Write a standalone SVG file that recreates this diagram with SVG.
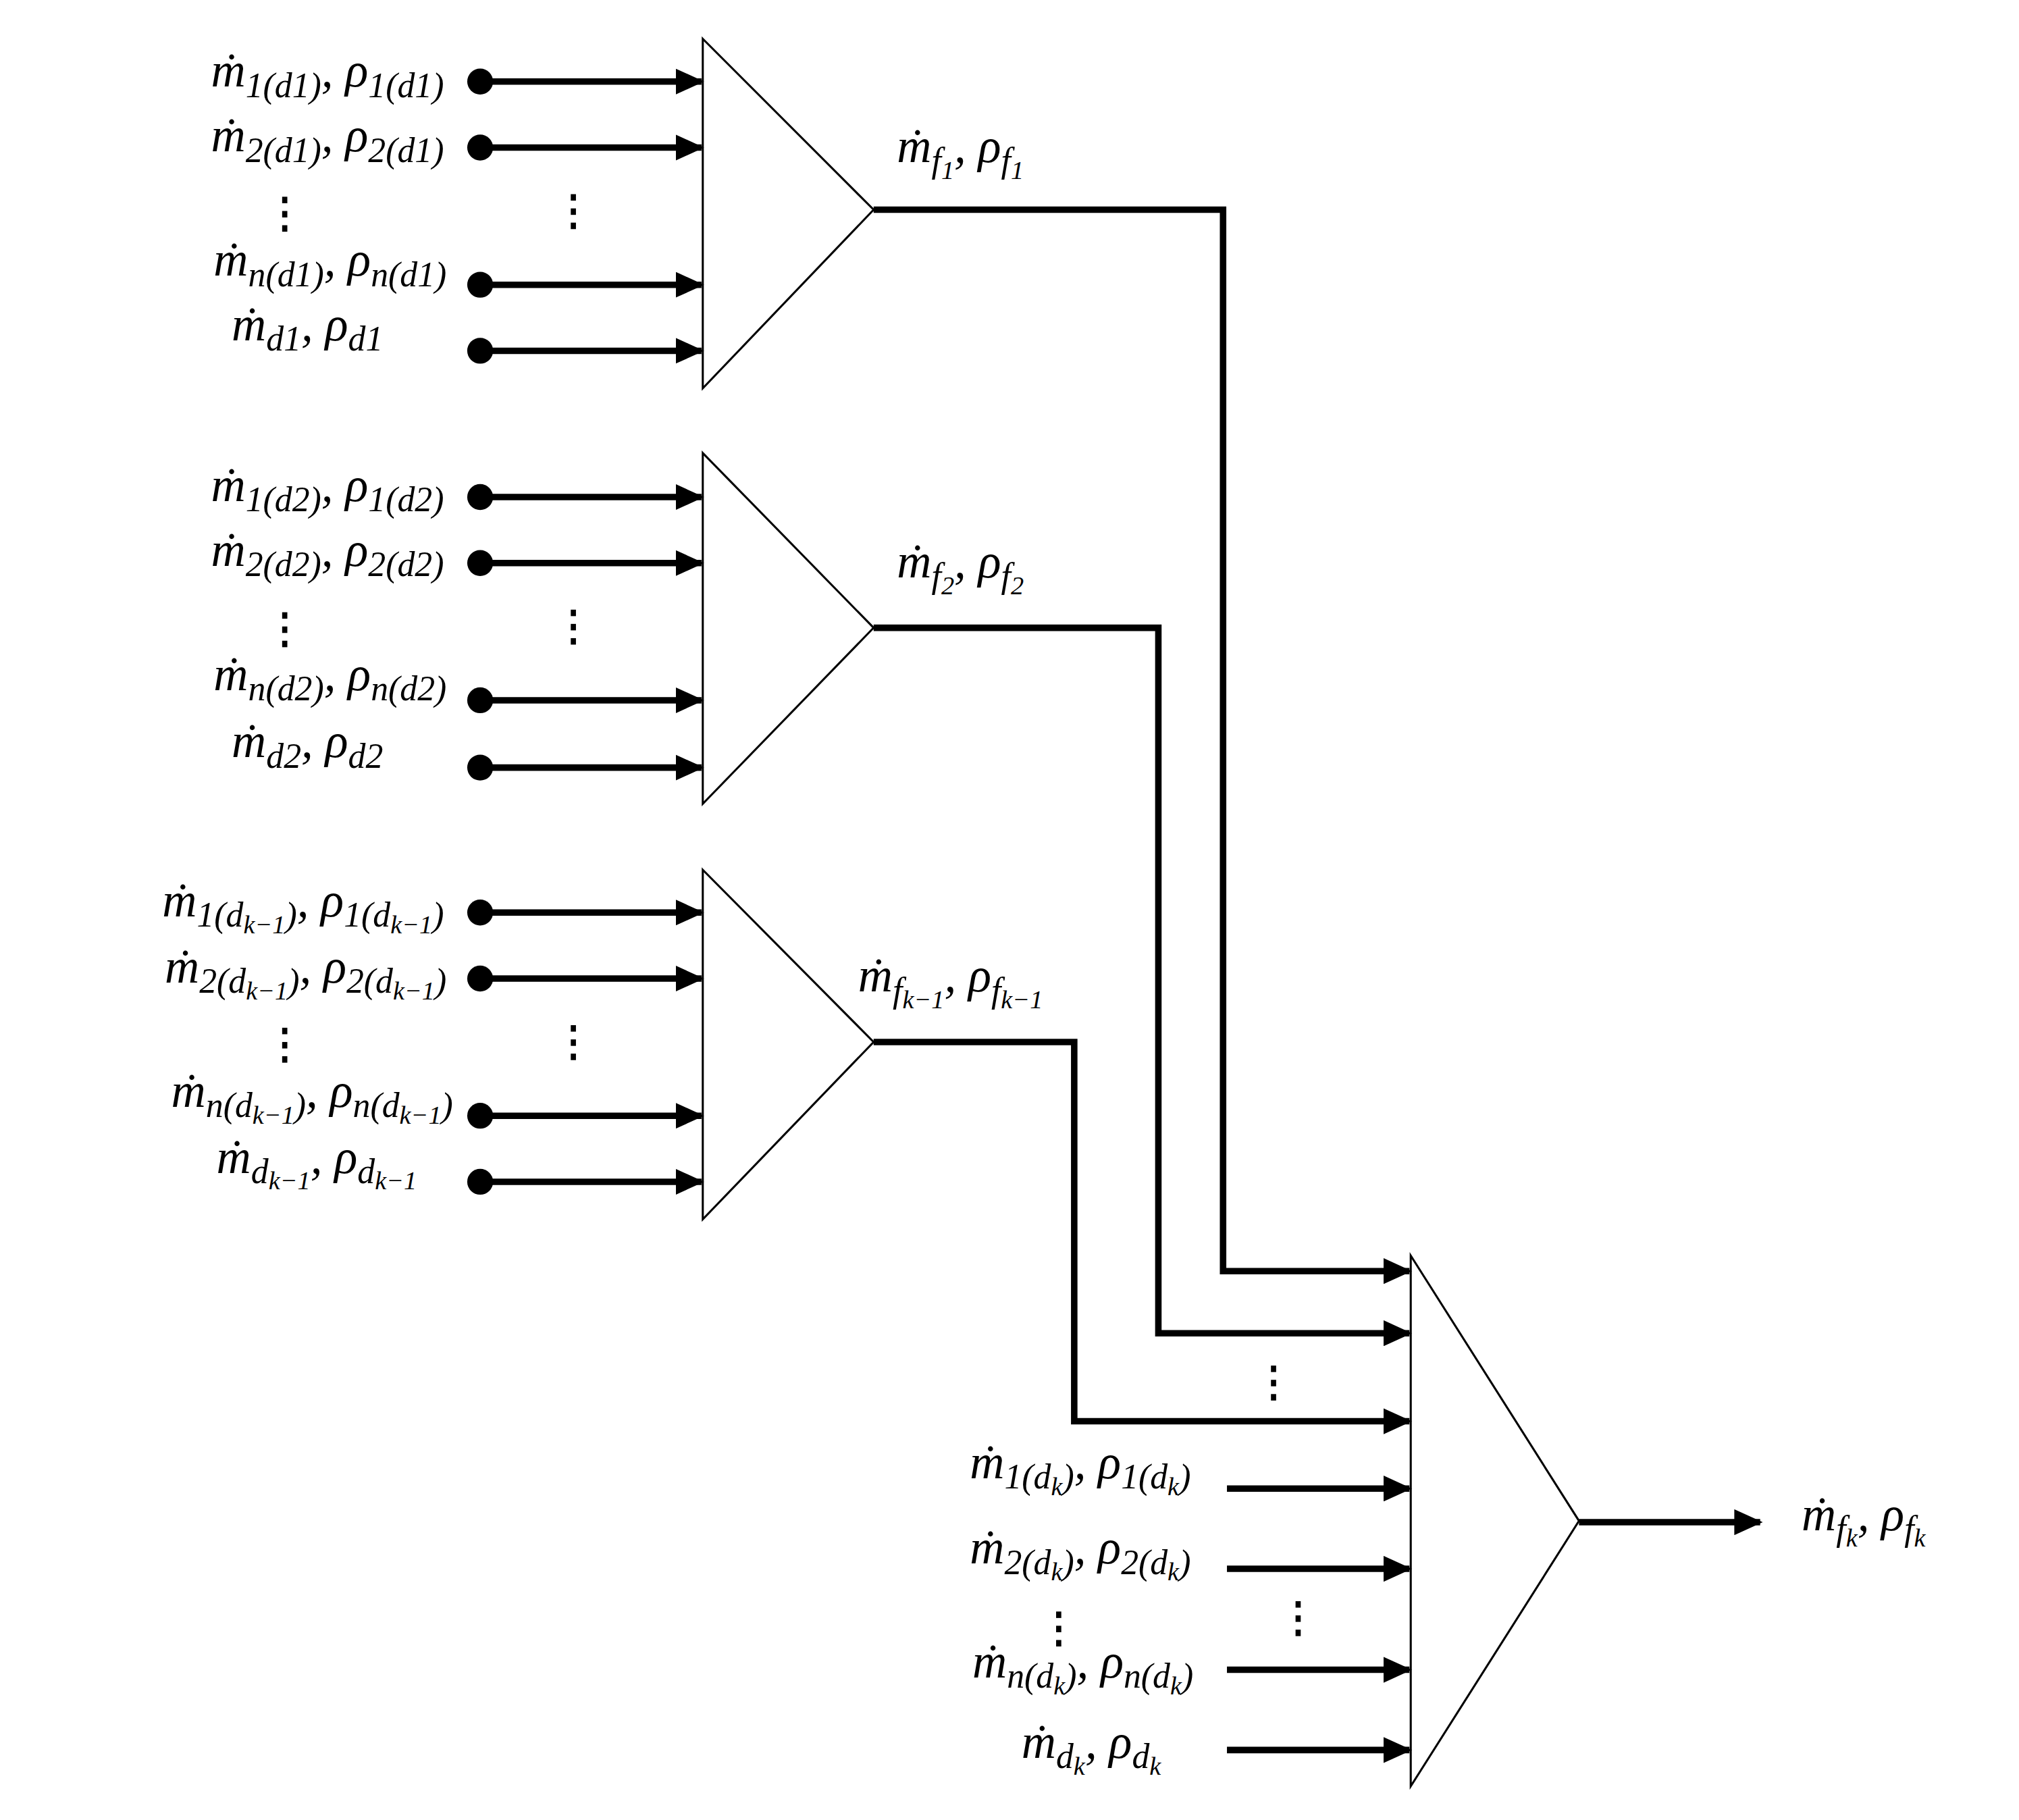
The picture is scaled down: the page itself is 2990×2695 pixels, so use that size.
<svg xmlns="http://www.w3.org/2000/svg" width="2990" height="2695" viewBox="0 0 2990 2695">
<style>
.t{font-family:"Liberation Serif",serif;font-style:italic;font-size:37px;fill:#000}
.s{font-size:27px}
.ss{font-size:20px}
.tri{fill:none;stroke:#000;stroke-width:1.6}
.w{fill:none;stroke:#000;stroke-width:5}
.d{fill:#000}
</style>
<defs>
<marker id="ah" markerUnits="userSpaceOnUse" markerWidth="22" markerHeight="20" refX="20" refY="10" orient="auto"><path d="M0,0 L22,10 L0,20 Z" fill="#000"/></marker>
</defs>
<rect width="2990" height="2695" fill="#fff"/>
<g transform="scale(1.9167)">
<g id="mixer1"><path class="tri" d="M543,30 L675,162 L543,300 Z"/></g>
<g id="mixer2"><path class="tri" d="M543,350 L675,485 L543,621 Z"/></g>
<g id="mixer3"><path class="tri" d="M543,672 L675,805 L543,942 Z"/></g>
<g id="mixer4"><path class="tri" d="M1090,970 L1220,1175 L1090,1380 Z"/></g>
<g id="connectors">
<g class="d"><circle cx="371" cy="63" r="10"/><circle cx="371" cy="114" r="10"/><circle cx="371" cy="220" r="10"/><circle cx="371" cy="271" r="10"/>
<circle cx="371" cy="384" r="10"/><circle cx="371" cy="435" r="10"/><circle cx="371" cy="541" r="10"/><circle cx="371" cy="593" r="10"/>
<circle cx="371" cy="705" r="10"/><circle cx="371" cy="756" r="10"/><circle cx="371" cy="862" r="10"/><circle cx="371" cy="913" r="10"/></g>
<g class="w" marker-end="url(#ah)">
<path d="M371,63H542"/><path d="M371,114H542"/><path d="M371,220H542"/><path d="M371,271H542"/>
<path d="M371,384H542"/><path d="M371,435H542"/><path d="M371,541H542"/><path d="M371,593H542"/>
<path d="M371,705H542"/><path d="M371,756H542"/><path d="M371,862H542"/><path d="M371,913H542"/>
<path d="M675,162H945V982H1089"/><path d="M675,485H895V1030H1089"/><path d="M675,805H830V1098H1089"/>
<path d="M948,1150H1089"/><path d="M948,1212H1089"/><path d="M948,1290H1089"/><path d="M948,1352H1089"/>
<path d="M1220,1176H1360"/>
</g>
<g class="d">
<rect x="218" y="152" width="4" height="5"/><rect x="218" y="163" width="4" height="5"/><rect x="218" y="174" width="4" height="5"/>
<rect x="441" y="150" width="4" height="5"/><rect x="441" y="161" width="4" height="5"/><rect x="441" y="172" width="4" height="5"/>
<rect x="218" y="473" width="4" height="5"/><rect x="218" y="484" width="4" height="5"/><rect x="218" y="495" width="4" height="5"/>
<rect x="441" y="471" width="4" height="5"/><rect x="441" y="482" width="4" height="5"/><rect x="441" y="493" width="4" height="5"/>
<rect x="218" y="794" width="4" height="5"/><rect x="218" y="805" width="4" height="5"/><rect x="218" y="816" width="4" height="5"/>
<rect x="441" y="792" width="4" height="5"/><rect x="441" y="803" width="4" height="5"/><rect x="441" y="814" width="4" height="5"/>
<rect x="982" y="1055" width="4" height="5"/><rect x="982" y="1066" width="4" height="5"/><rect x="982" y="1077" width="4" height="5"/>
<rect x="1001" y="1237" width="4" height="5"/><rect x="1001" y="1248" width="4" height="5"/><rect x="1001" y="1259" width="4" height="5"/>
<rect x="816" y="1245" width="4" height="5"/><rect x="816" y="1256" width="4" height="5"/><rect x="816" y="1267" width="4" height="5"/>
</g>
</g>
<g id="labels">
<text class="t" x="343" y="67" text-anchor="end">ṁ<tspan class="s" dy="8">1(d1)</tspan><tspan dy="-8">, ρ</tspan><tspan class="s" dy="8">1(d1)</tspan></text>
<text class="t" x="343" y="117" text-anchor="end">ṁ<tspan class="s" dy="8">2(d1)</tspan><tspan dy="-8">, ρ</tspan><tspan class="s" dy="8">2(d1)</tspan></text>
<text class="t" x="345" y="213" text-anchor="end">ṁ<tspan class="s" dy="8">n(d1)</tspan><tspan dy="-8">, ρ</tspan><tspan class="s" dy="8">n(d1)</tspan></text>
<text class="t" x="296" y="263" text-anchor="end">ṁ<tspan class="s" dy="8">d1</tspan><tspan dy="-8">, ρ</tspan><tspan class="s" dy="8">d1</tspan></text>
<text class="t" x="343" y="387" text-anchor="end">ṁ<tspan class="s" dy="8">1(d2)</tspan><tspan dy="-8">, ρ</tspan><tspan class="s" dy="8">1(d2)</tspan></text>
<text class="t" x="343" y="437" text-anchor="end">ṁ<tspan class="s" dy="8">2(d2)</tspan><tspan dy="-8">, ρ</tspan><tspan class="s" dy="8">2(d2)</tspan></text>
<text class="t" x="345" y="533" text-anchor="end">ṁ<tspan class="s" dy="8">n(d2)</tspan><tspan dy="-8">, ρ</tspan><tspan class="s" dy="8">n(d2)</tspan></text>
<text class="t" x="296" y="585" text-anchor="end">ṁ<tspan class="s" dy="8">d2</tspan><tspan dy="-8">, ρ</tspan><tspan class="s" dy="8">d2</tspan></text>
<text class="t" x="343" y="708" text-anchor="end">ṁ<tspan class="s" dy="8">1(d</tspan><tspan class="ss" dy="5">k−1</tspan><tspan class="s" dy="-5">)</tspan><tspan dy="-8">, ρ</tspan><tspan class="s" dy="8">1(d</tspan><tspan class="ss" dy="5">k−1</tspan><tspan class="s" dy="-5">)</tspan></text>
<text class="t" x="345" y="759" text-anchor="end">ṁ<tspan class="s" dy="8">2(d</tspan><tspan class="ss" dy="5">k−1</tspan><tspan class="s" dy="-5">)</tspan><tspan dy="-8">, ρ</tspan><tspan class="s" dy="8">2(d</tspan><tspan class="ss" dy="5">k−1</tspan><tspan class="s" dy="-5">)</tspan></text>
<text class="t" x="350" y="855" text-anchor="end">ṁ<tspan class="s" dy="8">n(d</tspan><tspan class="ss" dy="5">k−1</tspan><tspan class="s" dy="-5">)</tspan><tspan dy="-8">, ρ</tspan><tspan class="s" dy="8">n(d</tspan><tspan class="ss" dy="5">k−1</tspan><tspan class="s" dy="-5">)</tspan></text>
<text class="t" x="322" y="906" text-anchor="end">ṁ<tspan class="s" dy="8">d</tspan><tspan class="ss" dy="5">k−1</tspan><tspan dy="-13">, ρ</tspan><tspan class="s" dy="8">d</tspan><tspan class="ss" dy="5">k−1</tspan></text>
<text class="t" x="693" y="125">ṁ<tspan class="s" dy="8">f</tspan><tspan class="ss" dy="5">1</tspan><tspan dy="-13">, ρ</tspan><tspan class="s" dy="8">f</tspan><tspan class="ss" dy="5">1</tspan></text>
<text class="t" x="693" y="446">ṁ<tspan class="s" dy="8">f</tspan><tspan class="ss" dy="5">2</tspan><tspan dy="-13">, ρ</tspan><tspan class="s" dy="8">f</tspan><tspan class="ss" dy="5">2</tspan></text>
<text class="t" x="663" y="766">ṁ<tspan class="s" dy="8">f</tspan><tspan class="ss" dy="5">k−1</tspan><tspan dy="-13">, ρ</tspan><tspan class="s" dy="8">f</tspan><tspan class="ss" dy="5">k−1</tspan></text>
<text class="t" x="920" y="1142" text-anchor="end">ṁ<tspan class="s" dy="8">1(d</tspan><tspan class="ss" dy="5">k</tspan><tspan class="s" dy="-5">)</tspan><tspan dy="-8">, ρ</tspan><tspan class="s" dy="8">1(d</tspan><tspan class="ss" dy="5">k</tspan><tspan class="s" dy="-5">)</tspan></text>
<text class="t" x="920" y="1208" text-anchor="end">ṁ<tspan class="s" dy="8">2(d</tspan><tspan class="ss" dy="5">k</tspan><tspan class="s" dy="-5">)</tspan><tspan dy="-8">, ρ</tspan><tspan class="s" dy="8">2(d</tspan><tspan class="ss" dy="5">k</tspan><tspan class="s" dy="-5">)</tspan></text>
<text class="t" x="922" y="1296" text-anchor="end">ṁ<tspan class="s" dy="8">n(d</tspan><tspan class="ss" dy="5">k</tspan><tspan class="s" dy="-5">)</tspan><tspan dy="-8">, ρ</tspan><tspan class="s" dy="8">n(d</tspan><tspan class="ss" dy="5">k</tspan><tspan class="s" dy="-5">)</tspan></text>
<text class="t" x="897" y="1358" text-anchor="end">ṁ<tspan class="s" dy="8">d</tspan><tspan class="ss" dy="5">k</tspan><tspan dy="-13">, ρ</tspan><tspan class="s" dy="8">d</tspan><tspan class="ss" dy="5">k</tspan></text>
<text class="t" x="1392" y="1182">ṁ<tspan class="s" dy="8">f</tspan><tspan class="ss" dy="5">k</tspan><tspan dy="-13">, ρ</tspan><tspan class="s" dy="8">f</tspan><tspan class="ss" dy="5">k</tspan></text>
</g>
</g>
</svg>
